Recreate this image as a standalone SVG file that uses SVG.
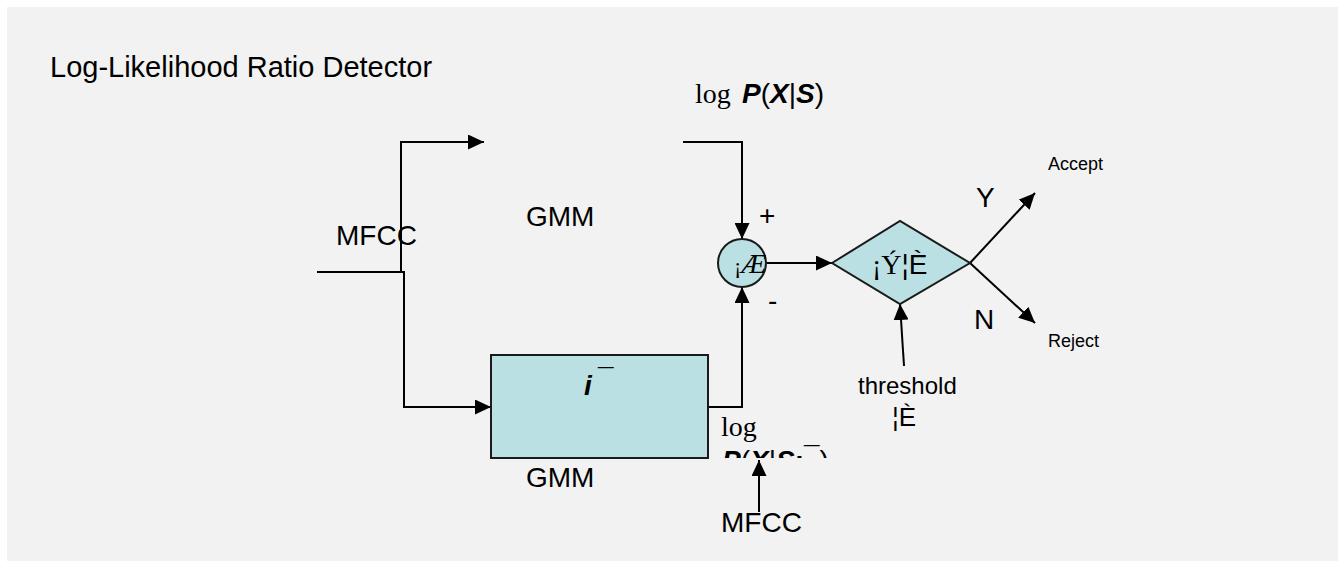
<svg xmlns="http://www.w3.org/2000/svg" width="1338" height="562" viewBox="0 0 1338 562">
<style>
.sans{font-family:"Liberation Sans",Arial,sans-serif;fill:#000}
.serif{font-family:"Liberation Serif","Times New Roman",serif;fill:#000}
.bi{font-weight:bold;font-style:italic}
.conn{fill:none;stroke:#000;stroke-width:2}
.shape{fill:#bae0e3;stroke:#1a1a1a;stroke-width:2}
</style>
<defs>
<marker id="arr" viewBox="0 0 16 15" markerWidth="16" markerHeight="15" refX="16" refY="7.5" markerUnits="userSpaceOnUse" orient="auto">
<path d="M0,0 L16,7.5 L0,15 z" fill="#000"/>
</marker>
<clipPath id="clipLow"><rect x="700" y="440" width="160" height="18"/></clipPath>
</defs>
<rect x="7" y="7" width="1331" height="554" fill="#f2f2f2"/>
<text id="title" class="sans" x="50" y="77" font-size="29">Log-Likelihood Ratio Detector</text>

<g id="connectors">
<path class="conn" d="M317,272 H404 V407 H491" marker-end="url(#arr)"/>
<path class="conn" d="M401,272 V142 H484" marker-end="url(#arr)"/>
<path class="conn" d="M683,142 H742 V239" marker-end="url(#arr)"/>
<path class="conn" d="M708,407 H742 V287" marker-end="url(#arr)"/>
<path class="conn" d="M766,263 H832" marker-end="url(#arr)"/>
<path class="conn" d="M904,366 L900,304" marker-end="url(#arr)"/>
<path class="conn" d="M970,263 L1035,193" marker-end="url(#arr)"/>
<path class="conn" d="M970,263 L1035,323" marker-end="url(#arr)"/>
<path class="conn" d="M759,512 V460" marker-end="url(#arr)"/>
</g>

<g id="mfcc-in">
<text class="sans" x="336" y="245" font-size="28">MFCC</text>
</g>

<g id="gmm-upper">
<text class="sans" x="526" y="226" font-size="28">GMM</text>
</g>

<g id="log-upper">
<text class="serif" x="695" y="103" font-size="28">log</text>
<text class="sans" x="742" y="103" font-size="28"><tspan class="bi">P</tspan>(<tspan class="bi">X</tspan>|<tspan class="bi">S</tspan>)</text>
</g>

<g id="gmm-lower">
<rect class="shape" x="491" y="355" width="217" height="103"/>
<text class="sans" x="584" y="395" font-size="28"><tspan class="bi">i</tspan><tspan x="598" y="388">¯</tspan></text>
<text class="sans" x="526" y="487" font-size="28">GMM</text>
</g>

<g id="log-lower">
<text class="serif" x="721" y="436" font-size="28">log</text>
<text class="sans" x="722" y="470" font-size="28" clip-path="url(#clipLow)"><tspan class="bi">P</tspan>(<tspan class="bi">X</tspan>|<tspan class="bi">S</tspan><tspan font-weight="bold">;</tspan><tspan dy="-4">¯</tspan><tspan dy="4">)</tspan></text>
</g>

<g id="mfcc-lower">
<text class="sans" x="721" y="532" font-size="28">MFCC</text>
</g>

<g id="sum">
<circle class="shape" cx="742" cy="263" r="24"/>
<text class="serif" x="734" y="273" font-size="22">¡<tspan font-style="italic" font-size="28">Æ</tspan></text>
<text class="sans" x="759" y="225" font-size="28">+</text>
<text class="sans" x="768" y="310" font-size="28">-</text>
</g>

<g id="decision">
<polygon class="shape" points="832,263 900,221 970,263 900,304"/>
<text x="872" y="274" font-size="28"><tspan class="serif">¡Ý</tspan><tspan class="sans">¦È</tspan></text>
</g>

<g id="threshold">
<text class="sans" x="858" y="394" font-size="24">threshold</text>
<text class="sans" x="892" y="426" font-size="26">¦È</text>
</g>

<g id="outcomes">
<text class="sans" x="976" y="207" font-size="28">Y</text>
<text class="sans" x="974" y="329" font-size="28">N</text>
<text class="sans" x="1048" y="170" font-size="18">Accept</text>
<text class="sans" x="1048" y="347" font-size="18">Reject</text>
</g>
</svg>
